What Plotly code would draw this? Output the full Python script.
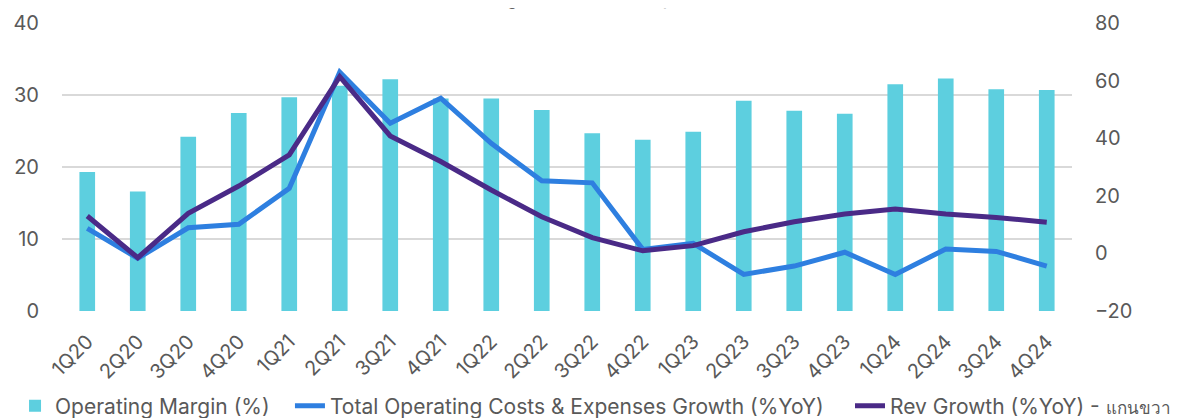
import plotly.graph_objects as go

quarters = [
    "1Q20", "2Q20", "3Q20", "4Q20", "1Q21", "2Q21", "3Q21", "4Q21", "1Q22", "2Q22",
    "3Q22", "4Q22", "1Q23", "2Q23", "3Q23", "4Q23", "1Q24", "2Q24", "3Q24", "4Q24",
]
operating_margin = [
    19.3, 16.6, 24.2, 27.5, 29.7, 31.3, 32.2, 29.5, 29.5, 27.9,
    24.7, 23.8, 24.9, 29.2, 27.8, 27.4, 31.5, 32.3, 30.8, 30.7,
]
opex_growth = [
    8.7, -1.7, 8.9, 10.1, 22.6, 62.9, 45.2, 53.9, 38.2, 25.2,
    24.5, 1.4, 3.5, -7.3, -4.4, 0.4, -7.3, 1.5, 0.7, -4.4,
]
rev_growth = [
    13.0, -1.5, 13.9, 23.4, 34.2, 61.4, 40.8, 31.9, 22.0, 12.7,
    5.5, 0.9, 2.7, 7.5, 11.0, 13.7, 15.4, 13.7, 12.5, 10.8,
]

grey = "#595959"
font = "Inter, 'Noto Sans', 'DejaVu Sans', sans-serif"

fig = go.Figure()
fig.add_trace(go.Bar(
    x=quarters, y=operating_margin, name="Operating Margin (%)",
    marker_color="#5DCFDF", marker_line_width=0, legend="legend",
))
fig.add_trace(go.Scatter(
    x=quarters, y=opex_growth, yaxis="y2", mode="lines",
    name="Total Operating Costs & Expenses Growth (%YoY)",
    line=dict(color="#2E7FE0", width=5), legend="legend2",
))
fig.add_trace(go.Scatter(
    x=quarters, y=rev_growth, yaxis="y2", mode="lines",
    name="Rev Growth (%YoY) - <span style='font-size:17px'>แกนขวา</span>",
    line=dict(color="#4A2A87", width=5), legend="legend3",
))

# one legend per series so the row does not wrap
leg = dict(orientation="h", y=-0.33, yanchor="middle", xanchor="left",
           font=dict(size=21, color=grey), itemwidth=30, bgcolor="rgba(0,0,0,0)")

# page body has an 8px margin, so the figure is a bit smaller than the window
fig.update_layout(
    width=1172, height=410,
    margin=dict(l=54, r=108, t=15, b=107, autoexpand=False),
    plot_bgcolor="white", paper_bgcolor="white",
    font=dict(family=font, size=20, color=grey),
    bargap=0.69,
    showlegend=True,
    legend=dict(leg, x=-0.0465),
    legend2=dict(leg, x=0.2257),
    legend3=dict(leg, x=0.7802),
    xaxis=dict(
        tickangle=-45, showgrid=False, showline=False, ticks="",
        ticklabelstandoff=14, tickfont=dict(size=20, color=grey),
    ),
    yaxis=dict(
        range=[0, 40], dtick=10, showgrid=True, gridcolor="#D9D9D9", gridwidth=2,
        zeroline=False, showline=False, ticklabelstandoff=22,
        tickfont=dict(size=20, color=grey),
    ),
    yaxis2=dict(
        range=[-20, 80], dtick=20, overlaying="y", side="right", showgrid=False,
        zeroline=False, showline=False, ticklabelstandoff=22,
        tickfont=dict(size=20, color=grey),
    ),
    annotations=[dict(
        text="Rev Growth vs Margin and Total Opex Growth (%YoY)",
        xref="paper", yref="paper", x=0.52, y=1.04, xanchor="center", yanchor="bottom",
        showarrow=False, font=dict(size=22, color="#404040"),
    )],
)

fig.write_html("out.html")
